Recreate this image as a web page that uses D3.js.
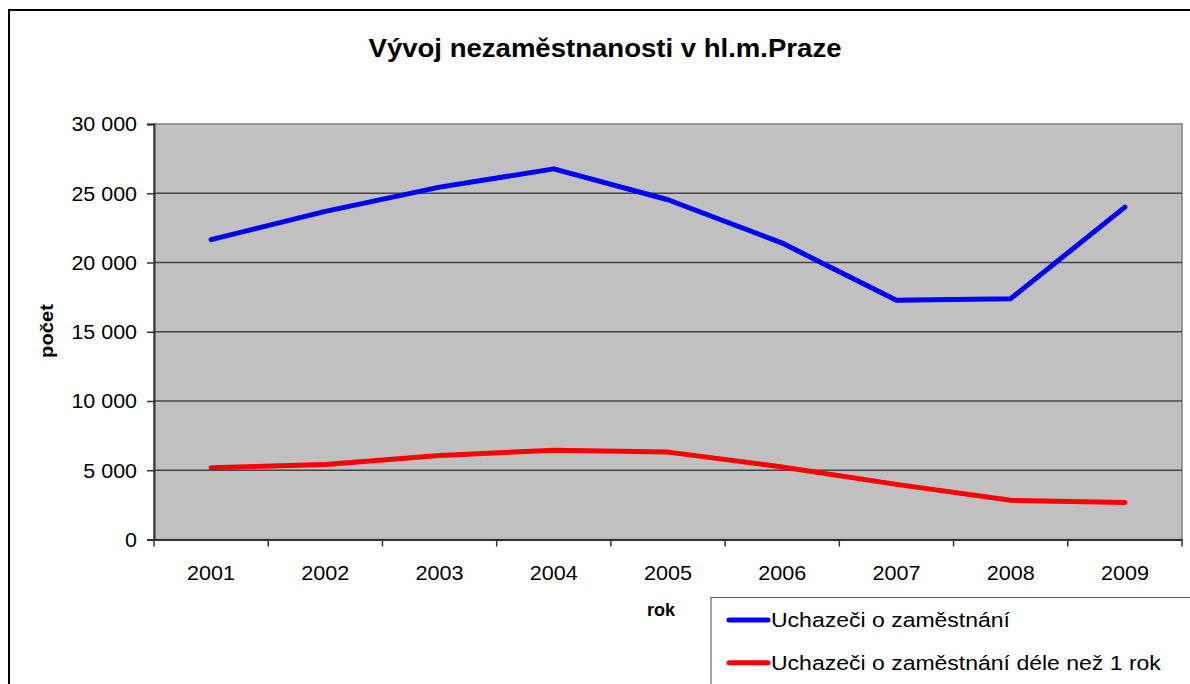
<!DOCTYPE html>
<html>
<head>
<meta charset="utf-8">
<script src="https://cdn.jsdelivr.net/npm/d3@7"></script>
<style>
  html, body { margin: 0; padding: 0; background: #fff; overflow: hidden; }
  svg { display: block; font-family: "Liberation Sans", Arial, sans-serif; }
</style>
</head>
<body>
<svg id="chart" width="1190" height="684"></svg>
<script>
const years = ["2001","2002","2003","2004","2005","2006","2007","2008","2009"];
const uchazeci = [21650, 23690, 25440, 26760, 24530, 21400, 17270, 17390, 24000];
const uchazeciDlouhodobe = [5180, 5420, 6060, 6450, 6310, 5240, 3980, 2830, 2680];
const yTicks = [0, 5000, 10000, 15000, 20000, 25000, 30000];
const seriesNames = ["Uchazeči o zaměstnání", "Uchazeči o zaměstnání déle než 1 rok"];
const seriesColors = ["#0000ff", "#ff0000"];
const titleText = "Vývoj nezaměstnanosti v hl.m.Praze";
const xTitle = "rok";
const yTitle = "počet";

const svg = d3.select("#chart");
const m = { left: 154, top: 124, right: 1182, bottom: 539.5 };

// outer chart border
svg.append("rect").attr("x", 9).attr("y", 10).attr("width", 1200).attr("height", 700)
  .attr("fill", "#fff").attr("stroke", "#000").attr("stroke-width", 2);

const x = d3.scaleBand().domain(years).range([m.left, m.right]);
const y = d3.scaleLinear().domain([0, 30000]).range([m.bottom, m.top]);

// plot background
svg.append("rect").attr("x", m.left).attr("y", m.top)
  .attr("width", m.right - m.left).attr("height", m.bottom - m.top)
  .attr("fill", "#c0c0c0").attr("stroke", "#808080").attr("stroke-width", 1.5);

// gridlines
svg.append("g").selectAll("line").data(yTicks.filter(d => d > 0 && d < 30000)).join("line")
  .attr("x1", m.left).attr("x2", m.right)
  .attr("y1", d => y(d)).attr("y2", d => y(d))
  .attr("stroke", "#444").attr("stroke-width", 1.4);

// y axis
const fmt = d => d3.format(",")(d).replace(/,/g, " ");
const yAxis = svg.append("g").attr("transform", `translate(${m.left},0)`)
  .call(d3.axisLeft(y).tickValues(yTicks).tickFormat(fmt).tickSize(7).tickPadding(10));
yAxis.select(".domain").attr("stroke", "#333").attr("stroke-width", 2);
yAxis.selectAll(".tick line").attr("stroke", "#333").attr("stroke-width", 1.5);
yAxis.selectAll("text").attr("font-size", 19.5).attr("fill", "#000")
  .attr("font-family", "Liberation Sans, Arial, sans-serif").attr("dy", "0.35em")
  .attr("x", -17 / 1.1).attr("transform", "scale(1.1,1)");

// x axis
const xAxis = svg.append("g").attr("transform", `translate(0,${m.bottom})`)
  .call(d3.axisBottom(x).tickSize(0).tickPadding(26));
xAxis.select(".domain").attr("stroke", "#333").attr("stroke-width", 2);
xAxis.selectAll("text").attr("font-size", 20).attr("fill", "#000")
  .attr("font-family", "Liberation Sans, Arial, sans-serif").attr("transform", "scale(1.08,1)");
// category boundary ticks
const bounds = years.map(d => x(d)).concat([m.right]);
svg.append("g").selectAll("line").data(bounds).join("line")
  .attr("x1", d => d).attr("x2", d => d)
  .attr("y1", m.bottom).attr("y2", m.bottom + 7)
  .attr("stroke", "#333").attr("stroke-width", 1.5);

// lines
const line = d3.line().x((d, i) => x(years[i]) + x.bandwidth() / 2).y(d => y(d));
[uchazeci, uchazeciDlouhodobe].forEach((s, i) => {
  svg.append("path").datum(s).attr("d", line)
    .attr("fill", "none").attr("stroke", seriesColors[i]).attr("stroke-width", 5)
    .attr("stroke-linecap", "round").attr("stroke-linejoin", "round");
});

// title
svg.append("text").attr("transform", "translate(605,57) scale(1.04,1)").attr("text-anchor", "middle")
  .attr("font-size", 26.5).attr("font-weight", "bold").text(titleText);

// axis titles
svg.append("text").attr("x", 661).attr("y", 616).attr("text-anchor", "middle")
  .attr("font-size", 18).attr("font-weight", "bold").text(xTitle);
svg.append("text").attr("transform", "translate(53,331) rotate(-90) scale(1.12,1)").attr("text-anchor", "middle")
  .attr("font-size", 18).attr("font-weight", "bold").text(yTitle);

// legend
const lg = svg.append("g");
lg.append("rect").attr("x", 711).attr("y", 597.5).attr("width", 500).attr("height", 120)
  .attr("fill", "#fff").attr("stroke", "#666").attr("stroke-width", 1.2);
seriesNames.forEach((n, i) => {
  const yy = 620 + i * 42.7;
  lg.append("line").attr("x1", 729).attr("x2", 768).attr("y1", yy).attr("y2", yy)
    .attr("stroke", seriesColors[i]).attr("stroke-width", 5).attr("stroke-linecap", "round");
  lg.append("text").attr("transform", `translate(771,${yy}) scale(1.18,1)`).attr("dy", "0.35em")
    .attr("font-size", 19.5).text(n);
});
</script>
</body>
</html>
